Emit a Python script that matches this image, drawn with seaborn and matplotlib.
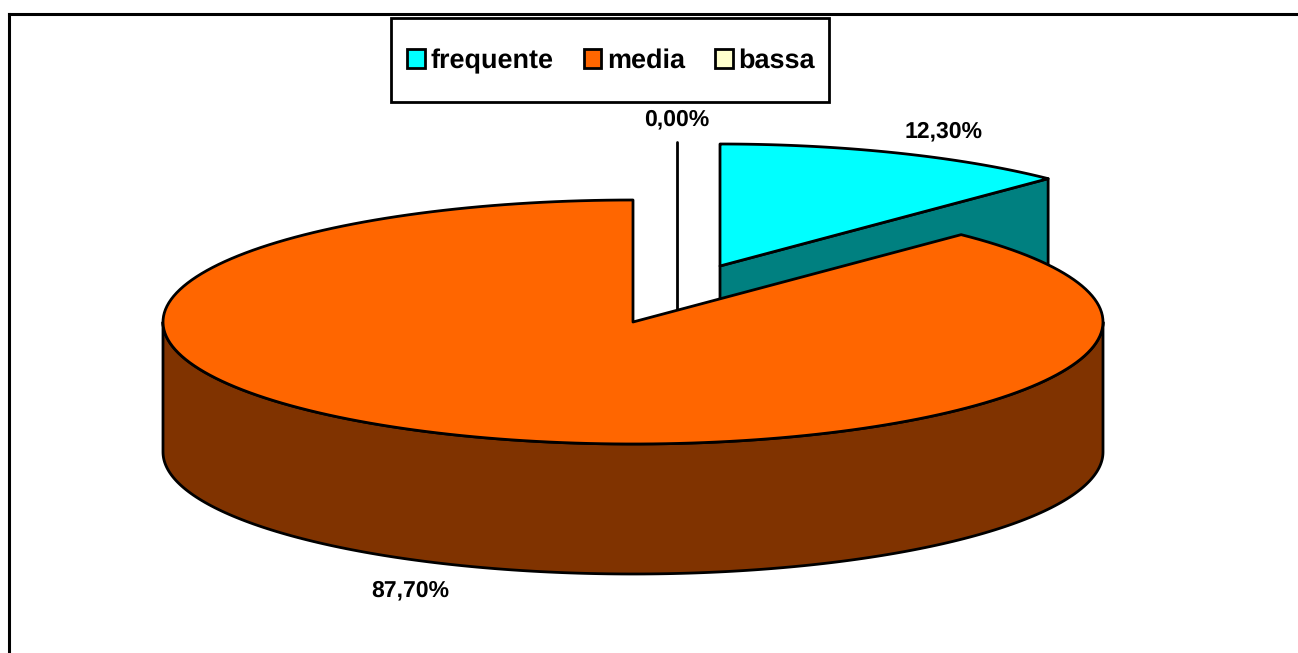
import numpy as np
import matplotlib
matplotlib.use('Agg')
import matplotlib.pyplot as plt
from matplotlib.patches import Polygon, Rectangle
import seaborn as sns

categories = ['frequente', 'media', 'bassa']
shares = [12.30, 87.70, 0.00]
labels = ['12,30%', '87,70%', '0,00%']
top_colors = ['#00FFFF', '#FF6600', '#FFFFCC']
side_colors = ['#008080', '#803300', '#808066']

sns.set_theme(style='white')
plt.rcParams['font.family'] = ['Liberation Sans', 'DejaVu Sans']
plt.rcParams['font.weight'] = 'bold'
plt.rcParams['text.hinting'] = 'none'
plt.rcParams['text.hinting_factor'] = 1

palette = sns.color_palette(top_colors)
side_palette = sns.color_palette(side_colors)

# geometria della torta in pixel
CX, CY = 633, 322
RX, RY = 470, 122
DEPTH = 130
EXPLODE_X, EXPLODE_Y = 87, -56
LW = 2.0

fig = plt.figure(figsize=(12.98, 6.53), dpi=100)
ax = fig.add_axes([9 / 1298, 0, 1 - 9 / 1298, 1 - 14 / 653])
ax.set_xlim(9, 1298)
ax.set_ylim(653, 14)
ax.set_xticks([])
ax.set_yticks([])
for side in ['right', 'bottom']:
    ax.spines[side].set_visible(False)
for side in ['left', 'top']:
    ax.spines[side].set_color('black')
    ax.spines[side].set_linewidth(2.2)


def rim(cx, cy, t0, t1, n=200):
    # angoli in senso orario a partire dalle ore 12
    t = np.linspace(t0, t1, n)
    return np.column_stack([cx + RX * np.sin(t), cy - RY * np.cos(t)])


def poly(pts, color, z):
    ax.add_patch(Polygon(pts, closed=True, facecolor=color, edgecolor='black',
                         linewidth=LW, joinstyle='round', zorder=z))


edges = np.cumsum([0] + shares) / 100 * 2 * np.pi

# fetta staccata: frequente
fx, fy = CX + EXPLODE_X, CY + EXPLODE_Y
t0, t1 = edges[0], edges[1]
end = rim(fx, fy, t1, t1, 1)[0]
poly([(fx, fy), end, (end[0], end[1] + DEPTH), (fx, fy + DEPTH)], side_palette[0], 2)
poly(np.vstack([[(fx, fy)], rim(fx, fy, t0, t1)]), palette[0], 3)

# riga guida per la fetta a 0
ax.plot([CX + 44, CX + 44], [142, CY], color='black', lw=LW, zorder=1)

# fetta grande: media
t0, t1 = edges[1], edges[2]
front = rim(CX, CY, np.pi / 2, 3 * np.pi / 2)
wall = np.vstack([front, (front + [0, DEPTH])[::-1]])
poly(wall, side_palette[1], 4)
poly(np.vstack([[(CX, CY)], rim(CX, CY, t0, t1)]), palette[1], 5)

# etichette
label_pos = [(944, 131), (410, 590), (677, 119)]
for text, (x, y) in zip(labels, label_pos):
    ax.text(x, y, text, ha='center', va='center', fontsize=16.3, fontweight='bold',
            color='black', zorder=6)

# legenda
ax.add_patch(Rectangle((390.5, 18.5), 438, 83.5, facecolor='white', edgecolor='black',
                       linewidth=LW, zorder=6))
handles = [Rectangle((0, 0), 1, 1, facecolor=c, edgecolor='black', linewidth=2) for c in palette]
leg = ax.legend(handles, categories, loc='center', bbox_to_anchor=(611, 61),
                bbox_transform=ax.transData, ncol=3, frameon=False, fontsize=19.5,
                labelcolor='black', handlelength=0.66, handleheight=0.66, handletextpad=0.2,
                columnspacing=1.1, borderpad=0, borderaxespad=0)
leg.set_zorder(7)

fig.savefig('out.png', dpi=100)
plt.close(fig)
